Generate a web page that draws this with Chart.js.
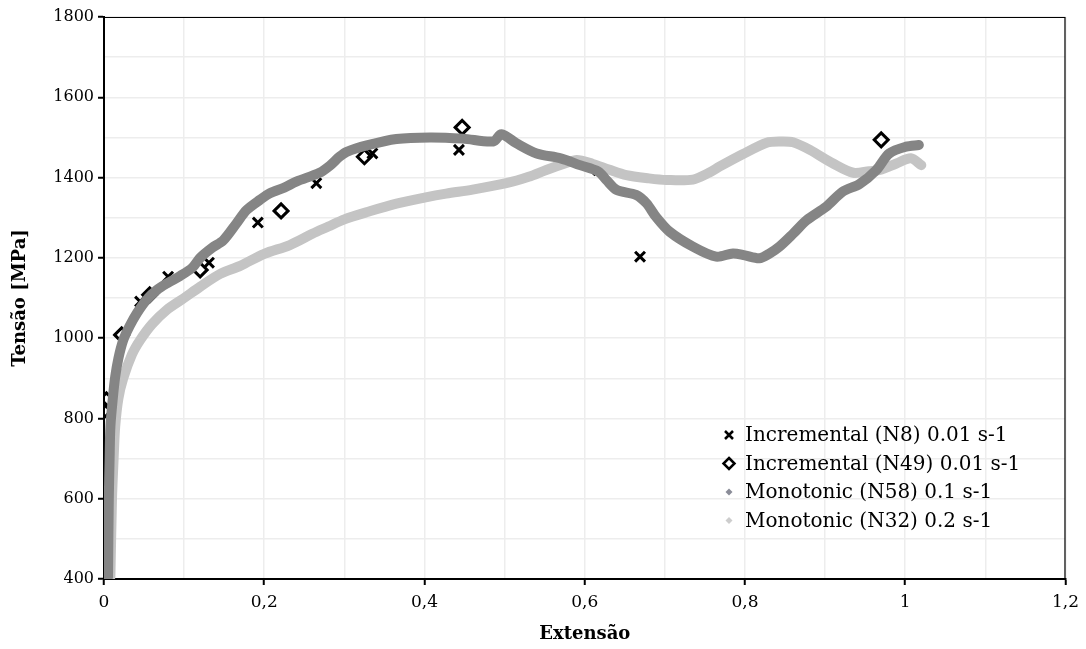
<!DOCTYPE html>
<html>
<head>
<meta charset="utf-8">
<title>Tensão vs Extensão</title>
<script src="https://cdn.jsdelivr.net/npm/chart.js@4.4.1/dist/chart.umd.min.js"></script>
<style>
    html, body { margin: 0; padding: 0; background: #fff; }
    #wrap { width: 1086px; height: 649px; }
</style>
</head>
<body>
<div id="wrap"><canvas id="stressChart" width="1086" height="649"></canvas></div>
<script>
// Incremental tests (single points)
const n8Strain  = [0.000, 0.045, 0.080, 0.131, 0.192, 0.265, 0.335, 0.443, 0.617, 0.669];
const n8Stress  = [597, 1091, 1153, 1188, 1288, 1386, 1460, 1469, 1418, 1203];

const n49Strain = [0.000, 0.001, 0.003, 0.022, 0.057, 0.120, 0.221, 0.325, 0.447, 0.970];
const n49Stress = [551, 821, 846, 1008, 1108, 1170, 1317, 1452, 1525, 1494];

// Monotonic tests (continuous curves)
const n58Strain = [0.005, 0.006, 0.007, 0.008, 0.011, 0.014, 0.018, 0.024, 0.032, 0.041,
    0.053, 0.066, 0.080, 0.095, 0.110, 0.120, 0.135, 0.149, 0.165, 0.178,
    0.195, 0.207, 0.225, 0.240, 0.269, 0.282, 0.294, 0.303, 0.328, 0.365,
    0.407, 0.448, 0.486, 0.496, 0.515, 0.540, 0.570, 0.594, 0.617, 0.627,
    0.640, 0.664, 0.677, 0.689, 0.706, 0.735, 0.764, 0.785, 0.800, 0.818,
    0.830, 0.843, 0.860, 0.877, 0.901, 0.922, 0.943, 0.964, 0.980, 1.001, 1.017];
const n58Stress = [405, 600, 700, 780, 850, 904, 950, 995, 1030, 1062,
    1095, 1120, 1138, 1155, 1175, 1200, 1225, 1244, 1285, 1319,
    1345, 1361, 1375, 1390, 1412, 1430, 1452, 1464, 1480, 1496,
    1500, 1497, 1490, 1508, 1485, 1460, 1448, 1431, 1415, 1394,
    1369, 1357, 1336, 1302, 1265, 1228, 1203, 1211, 1206, 1199,
    1210, 1228, 1260, 1294, 1327, 1365, 1384, 1419, 1460, 1477, 1481];

const n32Strain = [0.008, 0.010, 0.012, 0.014, 0.018, 0.024, 0.035, 0.045, 0.060, 0.078,
    0.100, 0.120, 0.145, 0.170, 0.200, 0.232, 0.260, 0.280, 0.300, 0.330,
    0.365, 0.400, 0.427, 0.460, 0.502, 0.530, 0.552, 0.575, 0.590, 0.610,
    0.630, 0.652, 0.680, 0.702, 0.735, 0.755, 0.768, 0.797, 0.827, 0.845,
    0.860, 0.881, 0.910, 0.935, 0.955, 0.968, 0.989, 1.007, 1.020];
const n32Stress = [405, 600, 700, 780, 850, 900, 960, 995, 1035, 1070,
    1100, 1128, 1160, 1180, 1210, 1232, 1260, 1278, 1296, 1315,
    1335, 1350, 1360, 1370, 1386, 1402, 1419, 1435, 1444, 1434,
    1420, 1406, 1398, 1394, 1395, 1412, 1427, 1458, 1487, 1490,
    1488, 1469, 1435, 1412, 1416, 1419, 1435, 1448, 1431];

const xTickStep = 0.1;
const yTickStep = 100;

function toPoints(xs, ys) {
    return xs.map((x, i) => ({ x: x, y: ys[i] }));
}

const darkGray = '#858585';
const lightGray = '#c4c4c4';
const serif = 'DejaVu Serif';

// Legend drawn by hand so it can sit inside the plot area
const insideLegend = {
    id: 'insideLegend',
    afterDraw(chart) {
        const ctx = chart.ctx;
        const rows = [
            { text: chart.data.datasets[2].label, mark: 'cross' },
            { text: chart.data.datasets[3].label, mark: 'diamond' },
            { text: chart.data.datasets[0].label, mark: 'dot', color: '#8a8c98' },
            { text: chart.data.datasets[1].label, mark: 'dot', color: '#cdcdcd' }
        ];
        const mx = 729, tx = 745;
        let y = 435;
        ctx.save();
        ctx.font = '20px "' + serif + '"';
        ctx.fillStyle = '#000';
        ctx.textBaseline = 'middle';
        rows.forEach(r => {
            ctx.strokeStyle = '#000';
            if (r.mark === 'cross') {
                ctx.lineWidth = 2.5;
                ctx.beginPath();
                ctx.moveTo(mx - 4, y - 4); ctx.lineTo(mx + 4, y + 4);
                ctx.moveTo(mx + 4, y - 4); ctx.lineTo(mx - 4, y + 4);
                ctx.stroke();
            } else if (r.mark === 'diamond') {
                ctx.lineWidth = 2.5;
                ctx.beginPath();
                ctx.moveTo(mx, y - 5.5); ctx.lineTo(mx + 5.5, y);
                ctx.lineTo(mx, y + 5.5); ctx.lineTo(mx - 5.5, y);
                ctx.closePath();
                ctx.stroke();
            } else {
                ctx.fillStyle = r.color;
                ctx.beginPath();
                ctx.moveTo(mx, y - 3.5); ctx.lineTo(mx + 3.5, y);
                ctx.lineTo(mx, y + 3.5); ctx.lineTo(mx - 3.5, y);
                ctx.closePath();
                ctx.fill();
                ctx.fillStyle = '#000';
            }
            ctx.fillText(r.text, tx, y + 1);
            y += 28.5;
        });
        ctx.restore();
    }
};

// Thin frame on the top and right of the plot
const plotFrame = {
    id: 'plotFrame',
    afterDraw(chart) {
        const a = chart.chartArea;
        const ctx = chart.ctx;
        ctx.save();
        ctx.strokeStyle = '#000';
        ctx.lineWidth = 1.2;
        ctx.beginPath();
        ctx.moveTo(a.left, a.top + 0.5);
        ctx.lineTo(a.right - 0.5, a.top + 0.5);
        ctx.lineTo(a.right - 0.5, a.bottom);
        ctx.stroke();
        ctx.restore();
    }
};

const isMajorX = v => Math.round(v * 10) % 2 === 0;
const isMajorY = v => Math.round(v) % 200 === 0;

const ctx = document.getElementById('stressChart').getContext('2d');
const stressChart = new Chart(ctx, {
    type: 'scatter',
    data: {
        datasets: [{
            label: 'Monotonic (N58) 0.1 s-1',
            data: toPoints(n58Strain, n58Stress),
            showLine: true,
            borderColor: darkGray,
            borderWidth: 10,
            pointRadius: 0,
            tension: 0.3,
            borderCapStyle: 'round',
            borderJoinStyle: 'round',
            order: 0
        }, {
            label: 'Monotonic (N32) 0.2 s-1',
            data: toPoints(n32Strain, n32Stress),
            showLine: true,
            borderColor: lightGray,
            borderWidth: 10,
            pointRadius: 0,
            tension: 0.3,
            borderCapStyle: 'round',
            borderJoinStyle: 'round',
            order: 1
        }, {
            label: 'Incremental (N8) 0.01 s-1',
            data: toPoints(n8Strain, n8Stress),
            pointStyle: 'crossRot',
            pointRadius: 7,
            borderWidth: 3,
            borderColor: '#000',
            backgroundColor: '#000',
            order: 2
        }, {
            label: 'Incremental (N49) 0.01 s-1',
            data: toPoints(n49Strain, n49Stress),
            pointStyle: 'rectRot',
            pointRadius: 7,
            borderWidth: 3,
            borderColor: '#000',
            backgroundColor: 'rgba(0,0,0,0)',
            order: 2
        }]
    },
    options: {
        responsive: false,
        animation: false,
        devicePixelRatio: 1,
        events: [],
        layout: { padding: { top: 17, right: 20, bottom: 0, left: 0 } },
        plugins: {
            legend: { display: false },
            tooltip: { enabled: false }
        },
        scales: {
            x: {
                type: 'linear',
                min: 0,
                max: 1.2,
                afterFit: s => { s.height = 70; },
                border: { color: '#000', width: 2 },
                grid: {
                    color: '#ededed',
                    lineWidth: 1.5,
                    tickLength: 6,
                    tickWidth: 2,
                    tickColor: c => (c.tick && isMajorX(c.tick.value)) ? '#000' : 'rgba(0,0,0,0)'
                },
                ticks: {
                    stepSize: xTickStep,
                    autoSkip: false,
                    maxRotation: 0,
                    padding: 7,
                    color: '#000',
                    font: { family: serif, size: 17 },
                    callback: v => isMajorX(v) ? String(Math.round(v * 10) / 10).replace('.', ',') : ''
                },
                title: {
                    display: true,
                    text: 'Extensão',
                    color: '#000',
                    font: { family: serif, size: 18, weight: 'bold' },
                    padding: { top: 0, bottom: 4 }
                }
            },
            y: {
                type: 'linear',
                min: 400,
                max: 1800,
                afterFit: s => { s.width = 104; },
                border: { color: '#000', width: 2 },
                grid: {
                    color: '#ededed',
                    lineWidth: 1.5,
                    tickLength: 6,
                    tickWidth: 2,
                    tickColor: c => (c.tick && isMajorY(c.tick.value)) ? '#000' : 'rgba(0,0,0,0)'
                },
                ticks: {
                    stepSize: yTickStep,
                    autoSkip: false,
                    padding: 4,
                    color: '#000',
                    font: { family: serif, size: 16 },
                    callback: v => isMajorY(v) ? String(v) : ''
                },
                title: {
                    display: true,
                    text: 'Tensão [MPa]',
                    color: '#000',
                    font: { family: serif, size: 18, weight: 'bold' },
                    padding: { top: 10, bottom: 0 }
                }
            }
        }
    },
    plugins: [insideLegend, plotFrame]
});
</script>
</body>
</html>
